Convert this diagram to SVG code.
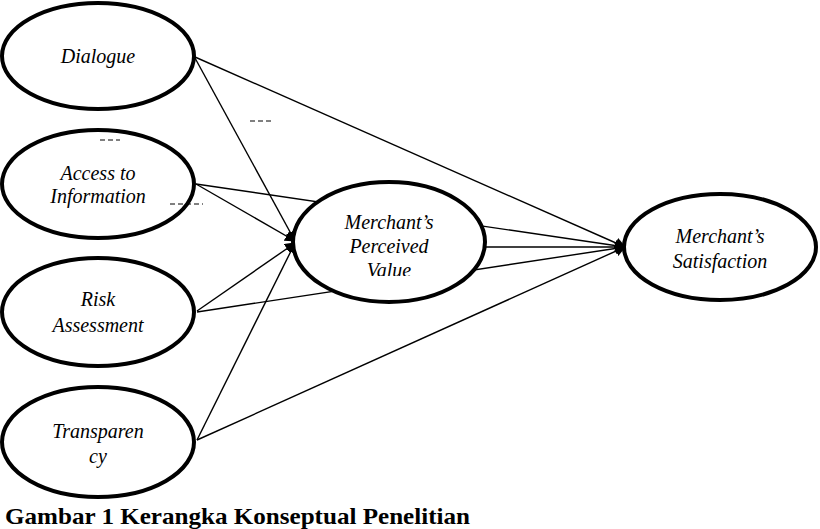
<svg xmlns="http://www.w3.org/2000/svg" width="820" height="529" viewBox="0 0 820 529">
<style>
.node ellipse{fill:#fff;stroke:#000;stroke-width:4}
.lbl{font-family:"Liberation Serif","Times New Roman",serif;font-style:italic;font-size:20px;fill:#000;text-anchor:middle}
.conn line{stroke:#000;stroke-width:1.4;fill:none}
.cap{font-family:"Liberation Serif","Times New Roman",serif;font-weight:bold;font-size:23px;fill:#000}
.stray line{stroke:#000;stroke-width:1;stroke-dasharray:5 3}
</style>
<defs>
<marker id="arr" viewBox="0 0 10 10" refX="9" refY="5" markerWidth="11" markerHeight="11" markerUnits="userSpaceOnUse" orient="auto">
<path d="M0,0 L10,5 L0,10 z" fill="#000"/>
</marker>
<clipPath id="mpvclip"><rect x="290" y="180" width="200" height="96"/></clipPath>
</defs>
<rect width="820" height="529" fill="#fff"/>
<g id="connectors" class="conn">
<line x1="195" y1="58" x2="295" y2="241" marker-end="url(#arr)"/>
<line x1="196" y1="184" x2="295" y2="241" marker-end="url(#arr)"/>
<line x1="197" y1="311" x2="295" y2="243" marker-end="url(#arr)"/>
<line x1="197" y1="440" x2="295" y2="243" marker-end="url(#arr)"/>
<line x1="195" y1="57" x2="625" y2="247" marker-end="url(#arr)"/>
<line x1="196" y1="184" x2="625" y2="247" marker-end="url(#arr)"/>
<line x1="197" y1="312" x2="625" y2="247" marker-end="url(#arr)"/>
<line x1="197" y1="440" x2="625" y2="247" marker-end="url(#arr)"/>
<line x1="485" y1="247" x2="625" y2="247" marker-end="url(#arr)"/>
</g>
<g id="dialogue" class="node">
<ellipse cx="98" cy="56" rx="96" ry="53"/>
<text class="lbl" x="98" y="63">Dialogue</text>
</g>
<g id="access" class="node">
<ellipse cx="98" cy="184" rx="96" ry="54"/>
<text class="lbl" x="98" y="180">Access to</text>
<text class="lbl" x="98" y="203">Information</text>
</g>
<g id="risk" class="node">
<ellipse cx="98" cy="312" rx="96" ry="54"/>
<text class="lbl" x="98" y="306">Risk</text>
<text class="lbl" x="98" y="332">Assessment</text>
</g>
<g id="transparency" class="node">
<ellipse cx="98" cy="442" rx="96" ry="55"/>
<text class="lbl" x="98" y="438">Transparen</text>
<text class="lbl" x="98" y="463">cy</text>
</g>
<g id="perceived-value" class="node">
<ellipse cx="389" cy="242" rx="96" ry="60"/>
<g clip-path="url(#mpvclip)">
<text class="lbl" x="389" y="229">Merchant’s</text>
<text class="lbl" x="389" y="253">Perceived</text>
<text class="lbl" x="389" y="277">Value</text>
</g>
</g>
<g id="satisfaction" class="node">
<ellipse cx="720" cy="247" rx="96" ry="53"/>
<text class="lbl" x="720" y="243">Merchant’s</text>
<text class="lbl" x="720" y="268">Satisfaction</text>
</g>
<g id="stray" class="stray">
<line x1="250" y1="121" x2="272" y2="121"/>
<line x1="100" y1="140" x2="120" y2="140"/>
<line x1="170" y1="204" x2="203" y2="204"/>
</g>
<text class="cap" x="5" y="524" textLength="465" lengthAdjust="spacingAndGlyphs">Gambar 1 Kerangka Konseptual Penelitian</text>
</svg>
